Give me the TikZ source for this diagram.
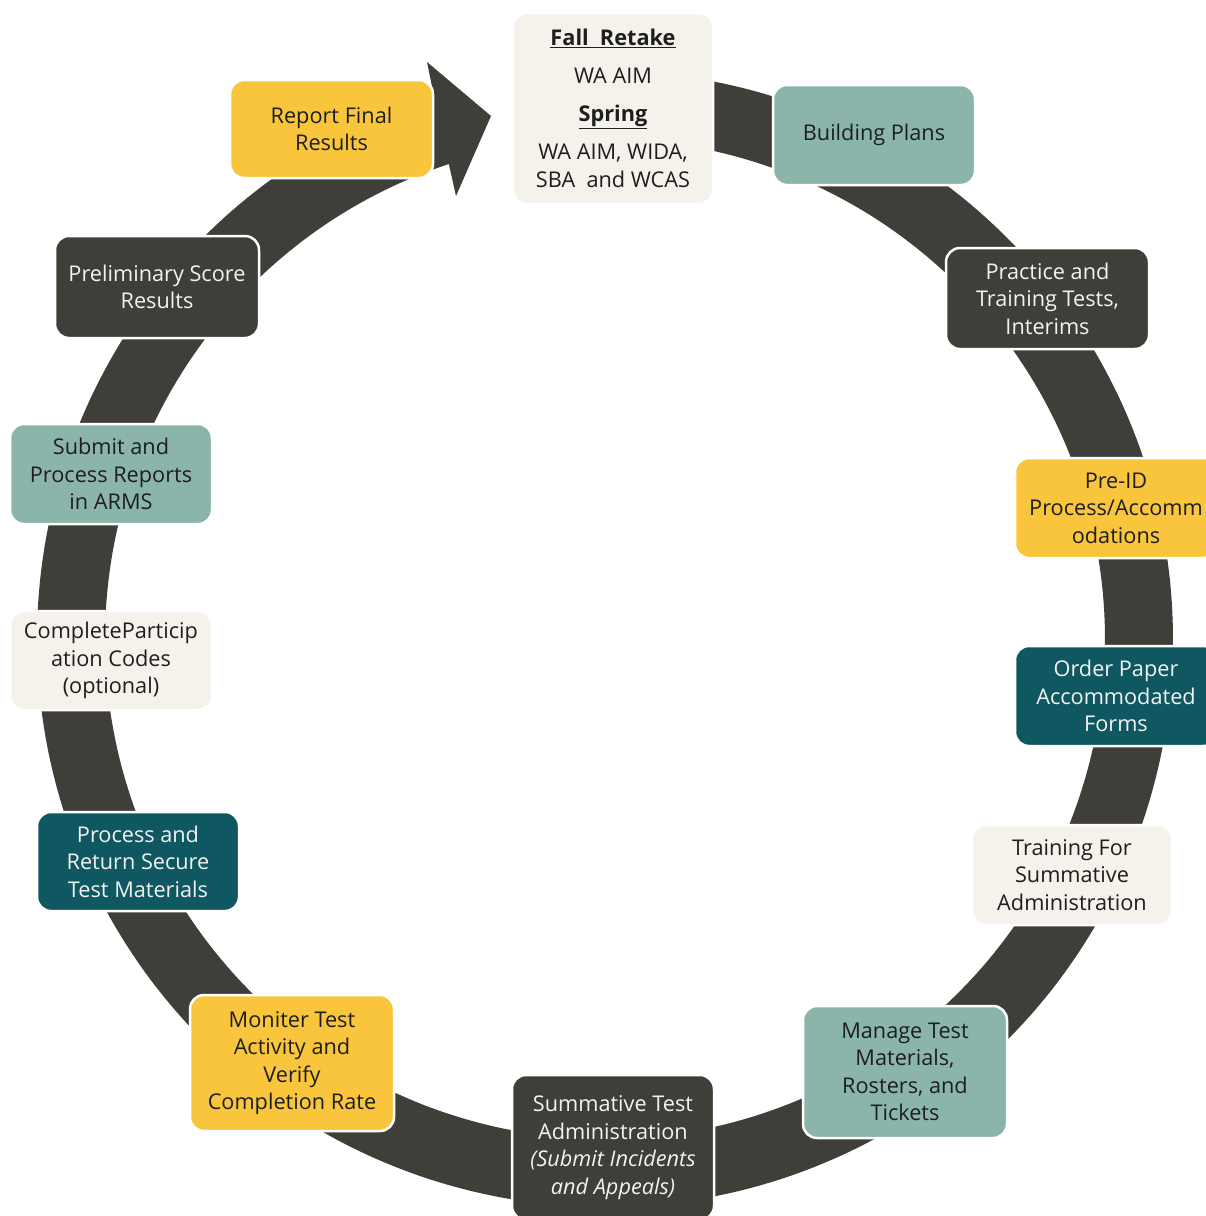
\documentclass[tikz,border=0pt]{standalone}
\usepackage{fontspec}
\setmainfont{Open Sans}
\definecolor{ringc}{HTML}{3F3E39}
\definecolor{sage}{HTML}{8BB5AA}
\definecolor{yel}{HTML}{F9C53C}
\definecolor{teal}{HTML}{0F5861}
\definecolor{cream}{HTML}{F4F2EA}
\definecolor{txtdark}{HTML}{1E1E1E}
\definecolor{txtlight}{HTML}{F2F2F2}
\begin{document}
\begin{tikzpicture}[x=1pt,y=-1pt,
  box/.style={draw=white, line width=2.5pt, rounded corners=14pt,
    minimum width=202pt, minimum height=100pt, inner sep=0pt, align=center,
    font=\fontsize{21.7}{27.5}\selectfont, text=txtdark},
  sagebox/.style={box, fill=sage},
  yelbox/.style={box, fill=yel},
  tealbox/.style={box, fill=teal, text=txtlight},
  darkbox/.style={box, fill=ringc, text=txtlight},
  creambox/.style={box, fill=cream}]
\clip (0,0) rectangle (1206,1216);
\fill[white] (0,0) rectangle (1206,1216);
% circular arrow ring
\fill[ringc] plot[domain=-85:252.5, samples=300] ({605+568*cos(\x)},{639+568*sin(\x)})
  -- (427,62) -- (491,116) -- (456,196)
  -- plot[domain=251.8:-85, samples=300] ({605+500*cos(\x)},{639+500*sin(\x)}) -- cycle;
% boxes
\node[creambox, minimum width=200pt, minimum height=191pt] (fall) at (613,108.5)
  {\underline{\textbf{Fall\ \ Retake}}\\[10.5pt] WA AIM\\[10.5pt] \underline{\textbf{Spring}}\\[10.5pt] WA AIM, WIDA,\\ SBA\ \ and WCAS};
\node[sagebox] (build) at (874,135) {Building Plans};
\node[darkbox, minimum width=203pt, minimum height=101pt] (practice) at (1047.5,298.5) {Practice and\\ Training Tests,\\ Interims};
\node[yelbox] (preid) at (1116,508) {Pre-ID\\ Process/Accomm\\ odations};
\node[tealbox] (order) at (1116,696) {Order Paper\\ Accommodated\\ Forms};
\node[creambox, minimum width=200pt] (training) at (1072,875) {Training For\\ Summative\\ Administration};
\node[sagebox, minimum width=204pt, minimum height=132pt] (manage) at (905,1072) {Manage Test\\ Materials,\\ Rosters, and\\ Tickets};
\node[darkbox, minimum height=145pt] (summ) at (613,1147.5) {Summative Test\\ Administration\\ \textit{(Submit Incidents}\\ \textit{and Appeals)}};
\node[yelbox, minimum width=204pt, minimum height=136pt] (moniter) at (292,1063) {Moniter Test\\ Activity and\\ Verify\\ Completion Rate};
\node[tealbox, minimum height=99pt] (process) at (138,861.5) {Process and\\ Return Secure\\ Test Materials};
\node[creambox, minimum height=99pt] (complete) at (111,660.5) {CompleteParticip\\ ation Codes\\ (optional)};
\node[sagebox] (submit) at (111,474) {Submit and\\ Process Reports\\ in ARMS};
\node[darkbox, minimum width=204pt, minimum height=102pt] (prelim) at (157,287) {Preliminary Score\\ Results};
\node[yelbox, minimum width=203pt, minimum height=98pt] (report) at (331.5,129) {Report Final\\ Results};
\end{tikzpicture}
\end{document}
